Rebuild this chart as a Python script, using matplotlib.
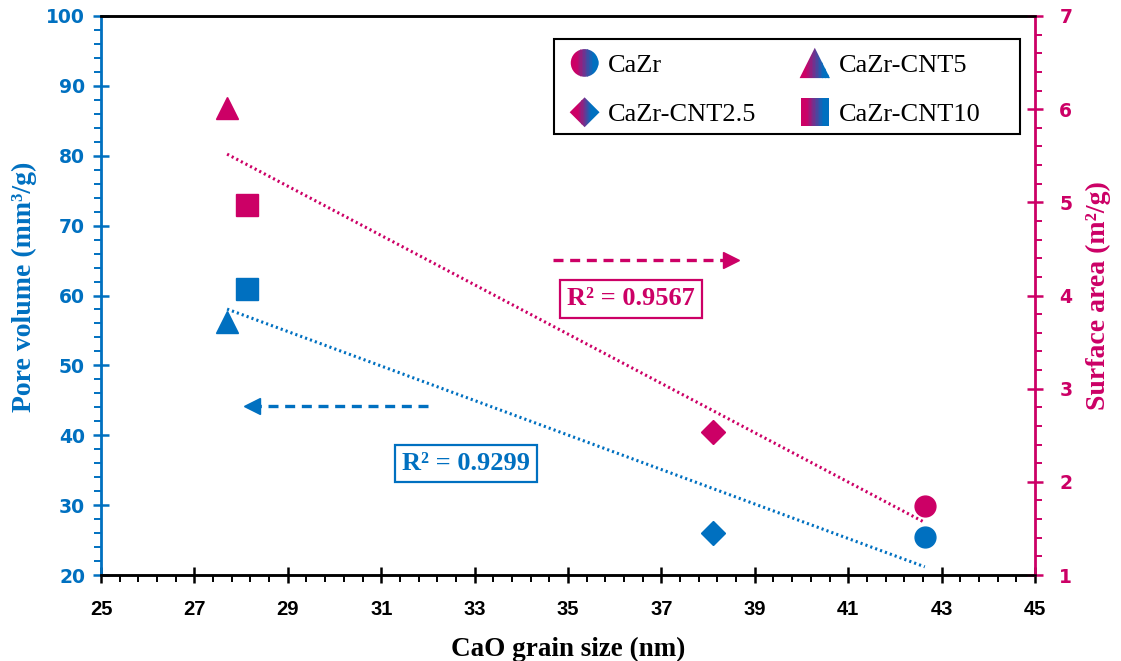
import numpy as np
import matplotlib
matplotlib.use('Agg')
import matplotlib.pyplot as plt
from matplotlib import font_manager
from matplotlib.legend_handler import HandlerBase
from matplotlib.markers import MarkerStyle
from matplotlib.patches import PathPatch, Rectangle
from matplotlib.path import Path
from matplotlib.lines import Line2D
from matplotlib.ticker import MultipleLocator, FixedLocator

# data
samples = ['CaZr', 'CaZr-CNT2.5', 'CaZr-CNT5', 'CaZr-CNT10']
grain_size = [42.64, 38.1, 27.7, 28.13]
pore_volume = [25.5, 26.0, 56.2, 60.9]
surface_area = [1.74, 2.53, 6.01, 4.97]
r2_pore = 'R² = 0.9299'
r2_area = 'R² = 0.9567'
x_ticks = np.arange(25, 46, 2)

markers = ['o', 'D', '^', 's']
sizes = [15, 12.5, 16.5, 15.5]
BLUE = '#0070C0'
PINK = '#CC0066'
serif = 'Liberation Serif'
names = {f.name for f in font_manager.fontManager.ttflist}
narrow = 'Liberation Sans Narrow' if 'Liberation Sans Narrow' in names else 'Liberation Sans'


class GradHandler(HandlerBase):
    # legend marker: pink on the left, blue on the right
    def __init__(self, marker, scale=1.0):
        super().__init__()
        self.marker = marker
        self.scale = scale

    def create_artists(self, legend, orig_handle, xdescent, ydescent,
                       width, height, fontsize, trans):
        ms = MarkerStyle(self.marker)
        path = ms.get_path().transformed(ms.get_transform())
        size = fontsize * 1.0 * self.scale
        cx = width / 2 - xdescent
        cy = height / 2 - ydescent
        path = Path(path.vertices * size + [cx, cy], path.codes)
        clip = PathPatch(path, transform=trans, fc='none', ec='none')
        r = size * 0.75
        n = 30
        cp = np.array(matplotlib.colors.to_rgb(PINK))
        cb = np.array(matplotlib.colors.to_rgb(BLUE))
        arts = []
        for i in range(n):
            t = (i + 0.5) / n
            f = np.clip((t - 0.3) / 0.4, 0, 1)
            col = cp * (1 - f) + cb * f
            rect = Rectangle((cx - r + 2 * r * i / n, cy - r), 2 * r / n * 1.1, 2 * r,
                             fc=col, ec='none', transform=trans)
            rect.set_clip_path(clip)
            arts.append(rect)
        return arts


fig = plt.figure(figsize=(11.21, 6.61), dpi=100)
ax = fig.add_axes([0.0901, 0.1301, 0.8332, 0.8457])
ax2 = ax.twinx()

for x, y, m, s in zip(grain_size, pore_volume, markers, sizes):
    ax.plot(x, y, marker=m, ms=s, color=BLUE, ls='none', zorder=3)
for x, y, m, s in zip(grain_size, surface_area, markers, sizes):
    ax2.plot(x, y, marker=m, ms=s, color=PINK, ls='none', zorder=3)

# linear trend lines
xs = np.array([min(grain_size), max(grain_size)])
k1 = np.polyfit(grain_size, pore_volume, 1)
k2 = np.polyfit(grain_size, surface_area, 1)
ax.plot(xs, np.polyval(k1, xs), color=BLUE, lw=2.2, ls=(0, (0.7, 1.0)))
ax2.plot(xs, np.polyval(k2, xs), color=PINK, lw=2.2, ls=(0, (0.7, 1.0)))

# axes
ax.set_xlim(25, 45)
ax.set_ylim(20, 100)
ax2.set_ylim(1, 7)
ax.xaxis.set_major_locator(FixedLocator(x_ticks))
ax.xaxis.set_minor_locator(FixedLocator(np.arange(25, 45.01, 0.4)))
ax.yaxis.set_major_locator(MultipleLocator(10))
ax.yaxis.set_minor_locator(MultipleLocator(2))
ax2.yaxis.set_major_locator(MultipleLocator(1))
ax2.yaxis.set_minor_locator(MultipleLocator(0.2))

ax.tick_params(axis='x', which='major', direction='inout', length=12, width=1.8,
               color='black', pad=12)
ax.tick_params(axis='x', which='minor', direction='out', length=5, width=1.4, color='black')
ax.tick_params(axis='y', which='major', direction='inout', length=11, width=1.8,
               color=BLUE, labelcolor=BLUE, pad=6)
ax.tick_params(axis='y', which='minor', direction='out', length=5, width=1.4, color=BLUE)
ax2.tick_params(axis='y', which='major', direction='inout', length=11, width=1.8,
                color=PINK, labelcolor=PINK, pad=12)
ax2.tick_params(axis='y', which='minor', direction='out', length=5, width=1.4, color=PINK)

for lab in ax.get_xticklabels():
    lab.set_family(narrow)
    lab.set_weight('bold')
    lab.set_fontsize(16 if narrow != 'Liberation Sans' else 14.5)
for lab in ax.get_yticklabels() + ax2.get_yticklabels():
    lab.set_family('DejaVu Sans')
    lab.set_weight('bold')
    lab.set_fontsize(13.5)

for a in (ax, ax2):
    a.spines['top'].set_color('black')
    a.spines['bottom'].set_color('black')
    a.spines['top'].set_linewidth(1.8)
    a.spines['bottom'].set_linewidth(1.8)
ax.spines['left'].set_color(BLUE)
ax.spines['left'].set_linewidth(2)
ax2.spines['left'].set_visible(False)
ax.spines['right'].set_visible(False)
ax2.spines['right'].set_color(PINK)
ax2.spines['right'].set_linewidth(2)

ax.set_xlabel('CaO grain size (nm)', family=serif, weight='bold', fontsize=19.5, labelpad=13)
ax.set_ylabel('Pore volume (mm³/g)', family=serif, weight='bold',
              fontsize=20, color=BLUE, labelpad=6)
ax.yaxis.set_label_coords(-0.068, 0.515)
ax2.set_ylabel('Surface area (m²/g)', family=serif, weight='bold',
               fontsize=20, color=PINK, labelpad=10)

# arrows pointing to the axis each series belongs to: dashed shaft + solid head
ax2.plot([34.68, 38.35], [4.38, 4.38], color=PINK, lw=2.4, ls=(0, (3, 2)))
ax2.plot([38.5], [4.38], marker='>', ms=11, color=PINK, ls='none')
ax.plot([32.0, 28.38], [44.2, 44.2], color=BLUE, lw=2.4, ls=(0, (3, 2)))
ax.plot([28.23], [44.2], marker='<', ms=11, color=BLUE, ls='none')

ax2.text(36.35, 3.963, r2_area, family=serif, weight='bold', fontsize=19, color=PINK,
         ha='center', va='center',
         bbox=dict(boxstyle='square,pad=0.27', fc='white', ec=PINK, lw=1.6))
ax.text(32.82, 36.0, r2_pore, family=serif, weight='bold', fontsize=19, color=BLUE,
        ha='center', va='center',
        bbox=dict(boxstyle='square,pad=0.27', fc='white', ec=BLUE, lw=1.6))

# legend with a hand-placed frame
ax2.add_patch(Rectangle((0.485, 0.789), 0.499, 0.170, transform=ax2.transAxes,
                        fc='white', ec='black', lw=1.5, zorder=4))
handles = [Line2D([], [], label=s) for s in samples]
hmap = {h: GradHandler(m, sc) for h, m, sc in zip(handles, markers, [1.05, 0.8, 1.15, 1.05])}
leg = ax2.legend(handles=handles, handler_map=hmap, ncol=2, loc='upper left',
                 bbox_to_anchor=(0.485, 0.959), frameon=False,
                 prop=dict(family=serif, size=19),
                 handlelength=1.2, handletextpad=0.3, columnspacing=1.6,
                 labelspacing=0.98, borderpad=0.56, borderaxespad=0)
leg.set_zorder(5)

fig.savefig('out.png', dpi=100)
